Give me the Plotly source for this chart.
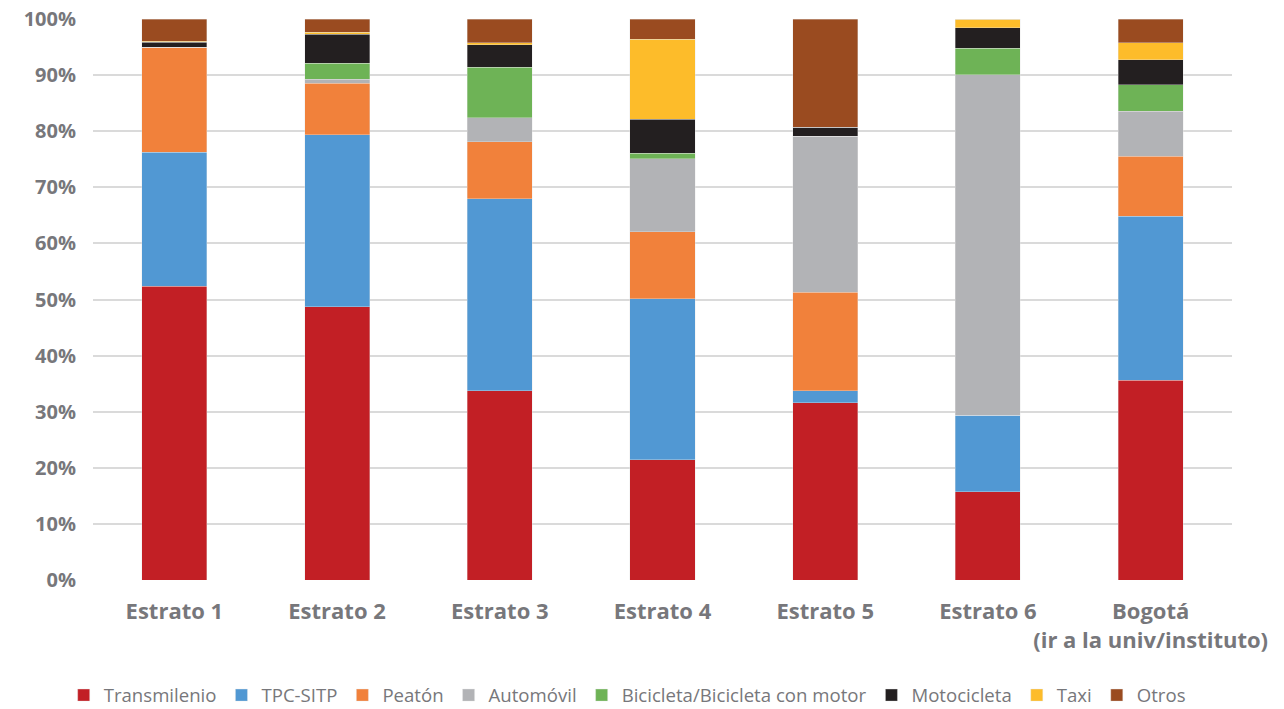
import plotly.graph_objects as go

categories = ["Estrato 1", "Estrato 2", "Estrato 3", "Estrato 4", "Estrato 5", "Estrato 6",
              "Bogotá<br>(ir a la univ/instituto)"]

transmilenio = [52.4, 48.7, 33.75, 21.4, 31.6, 15.7, 35.6]
tpc_sitp     = [23.85, 30.65, 34.25, 28.7, 2.15, 13.65, 29.2]
peaton       = [18.75, 9.2, 10.1, 12.0, 17.55, 0.0, 10.7]
automovil    = [0.0, 0.7, 4.3, 13.0, 27.8, 60.75, 8.1]
bicicleta    = [0.0, 2.85, 9.0, 1.0, 0.0, 4.7, 4.7]
motocicleta  = [0.9, 5.2, 4.0, 6.0, 1.6, 3.6, 4.4]
taxi         = [0.15, 0.3, 0.4, 14.3, 0.0, 1.6, 3.1]
otros        = [3.95, 2.4, 4.2, 3.6, 19.3, 0.0, 4.2]

series = [
    ("Transmilenio", transmilenio, "#C21F25"),
    ("TPC-SITP", tpc_sitp, "#5198D3"),
    ("Peatón", peaton, "#F1813B"),
    ("Automóvil", automovil, "#B2B3B6"),
    ("Bicicleta/Bicicleta con motor", bicicleta, "#6EB356"),
    ("Motocicleta", motocicleta, "#231F20"),
    ("Taxi", taxi, "#FDBC2A"),
    ("Otros", otros, "#9A4B20"),
]

fig = go.Figure()
for name, vals, color in series:
    fig.add_trace(go.Bar(
        x=categories, y=vals, name=name,
        marker=dict(color=color, line=dict(color="rgba(230,230,230,0.6)", width=0.6)),
    ))

gray = "#77777B"
fig.update_layout(
    barmode="stack",
    bargap=0.6,
    width=1284, height=709,
    margin=dict(l=93, r=52, t=19, b=129, autoexpand=False),
    paper_bgcolor="white", plot_bgcolor="white",
    font=dict(family="'Open Sans', sans-serif", color=gray),
    showlegend=True,
    legend=dict(orientation="h", x=0.469, xanchor="center", y=-0.172, yanchor="top",
                font=dict(size=18.6, color=gray, family="'Open Sans', sans-serif"),
                traceorder="normal", itemwidth=30, tracegroupgap=0),
    xaxis=dict(showgrid=False, showline=False, zeroline=False, automargin=False,
               tickangle=0,
               tickfont=dict(size=22, color=gray, family="'Open Sans', sans-serif", weight="bold"),
               ticks="outside", ticklen=12, tickcolor="rgba(0,0,0,0)"),
    yaxis=dict(range=[0, 100], dtick=10, ticksuffix="%", automargin=False,
               showgrid=True, gridcolor="#DADADA", gridwidth=1.5,
               zeroline=False, showline=False,
               tickfont=dict(size=20, color=gray, family="'Open Sans', sans-serif", weight="bold"),
               ticks="outside", ticklen=12, tickcolor="rgba(0,0,0,0)"),
)

fig.write_html("out.html",
               config={"displayModeBar": False},
               post_script="document.body.style.margin='0';document.body.style.overflow='hidden';")
